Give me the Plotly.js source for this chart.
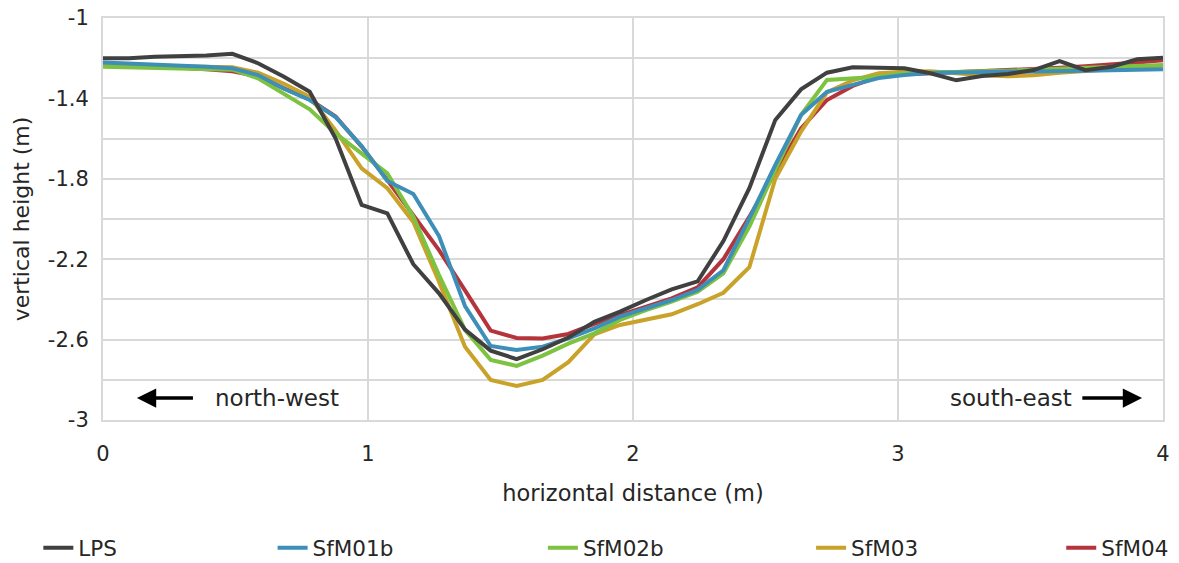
<!DOCTYPE html>
<html>
<head>
<meta charset="utf-8">
<script src="https://cdn.plot.ly/plotly-3.0.1.min.js"></script>
<style>html,body{margin:0;padding:0;background:#fff;}#chart{width:1179px;height:563px;}</style>
</head>
<body>
<div id="chart"></div>
<script>
// horizontal distance (m)
const distance = [0,0.098,0.195,0.293,0.390,0.488,0.585,0.683,0.780,0.878,0.976,1.073,1.171,1.268,1.366,1.463,1.561,1.659,1.756,1.854,1.951,2.049,2.146,2.244,2.341,2.439,2.537,2.634,2.732,2.829,2.927,3.024,3.122,3.220,3.317,3.415,3.512,3.610,3.707,3.805,3.902,4.000];

// vertical height (m) per survey
const LPS = [-1.200,-1.200,-1.193,-1.190,-1.186,-1.178,-1.225,-1.292,-1.367,-1.600,-1.930,-1.972,-2.225,-2.370,-2.550,-2.655,-2.697,-2.648,-2.590,-2.511,-2.461,-2.403,-2.350,-2.310,-2.110,-1.847,-1.507,-1.355,-1.272,-1.245,-1.247,-1.250,-1.275,-1.310,-1.289,-1.279,-1.259,-1.215,-1.260,-1.243,-1.205,-1.198];
const SfM01b = [-1.222,-1.226,-1.232,-1.238,-1.243,-1.250,-1.284,-1.352,-1.408,-1.493,-1.637,-1.811,-1.876,-2.085,-2.433,-2.632,-2.652,-2.635,-2.594,-2.544,-2.486,-2.444,-2.403,-2.353,-2.255,-1.997,-1.731,-1.483,-1.367,-1.333,-1.299,-1.284,-1.274,-1.271,-1.270,-1.268,-1.266,-1.265,-1.262,-1.260,-1.258,-1.255];
const SfM02b = [-1.242,-1.245,-1.248,-1.250,-1.253,-1.257,-1.300,-1.375,-1.454,-1.574,-1.673,-1.773,-1.989,-2.279,-2.552,-2.701,-2.731,-2.680,-2.620,-2.569,-2.502,-2.453,-2.411,-2.362,-2.270,-2.038,-1.756,-1.483,-1.308,-1.300,-1.292,-1.275,-1.270,-1.268,-1.265,-1.262,-1.258,-1.254,-1.249,-1.244,-1.239,-1.234];
const SfM03 = [-1.234,-1.236,-1.238,-1.240,-1.242,-1.245,-1.272,-1.327,-1.392,-1.560,-1.748,-1.847,-2.015,-2.312,-2.635,-2.801,-2.831,-2.801,-2.712,-2.574,-2.527,-2.502,-2.474,-2.424,-2.367,-2.240,-1.800,-1.565,-1.370,-1.310,-1.275,-1.268,-1.265,-1.275,-1.285,-1.290,-1.285,-1.272,-1.262,-1.255,-1.247,-1.236];
const SfM04 = [-1.225,-1.232,-1.240,-1.248,-1.255,-1.265,-1.290,-1.350,-1.405,-1.490,-1.640,-1.806,-1.980,-2.155,-2.355,-2.555,-2.592,-2.594,-2.572,-2.522,-2.478,-2.436,-2.395,-2.340,-2.200,-1.989,-1.765,-1.549,-1.408,-1.338,-1.292,-1.280,-1.275,-1.270,-1.265,-1.260,-1.255,-1.248,-1.240,-1.232,-1.222,-1.210];

const seriesNames = ["LPS","SfM01b","SfM02b","SfM03","SfM04"];
const seriesValues = [LPS, SfM01b, SfM02b, SfM03, SfM04];
const seriesColors = ["#404040","#3d8fb8","#7dc241","#c9a22a","#b5343c"];

const yTickVals = [-3,-2.6,-2.2,-1.8,-1.4,-1];
const yTickText = ["-3","-2.6","-2.2","-1.8","-1.4","-1"];
const xTickVals = [0,1,2,3,4];
const xTickText = ["0","1","2","3","4"];

const FONT = "DejaVu Sans, Verdana, sans-serif";
const TXT = "#262626";
// left edge (paper fraction) of each legend entry
const legendX = [-0.061, 0.160, 0.415, 0.668, 0.904];

const legendIds = ["legend","legend2","legend3","legend4","legend5"];

// draw order: last legend entry first so LPS ends on top
const traces = [];
for (let k = seriesNames.length - 1; k >= 0; k--) {
  traces.push({
    type: "scatter", mode: "lines",
    name: seriesNames[k],
    x: distance, y: seriesValues[k],
    line: {color: seriesColors[k], width: 4},
    legend: legendIds[k]
  });
}

const layout = {
  width: 1179, height: 563,
  margin: {l: 103, r: 16, t: 18, b: 143, autoexpand: false},
  paper_bgcolor: "#fff", plot_bgcolor: "#fff",
  font: {family: FONT, size: 21, color: TXT},
  showlegend: true,
  xaxis: {
    range: [0, 4], tickmode: "array", tickvals: xTickVals, ticktext: xTickText,
    showgrid: true, gridcolor: "#d9d9d9", gridwidth: 2,
    showline: true, linecolor: "#d9d9d9", linewidth: 2, mirror: true,
    zeroline: false, ticks: "", ticklabelstandoff: 14,
    tickfont: {family: FONT, size: 21, color: TXT},
    title: {text: "horizontal distance (m)", font: {family: FONT, size: 22.5, color: TXT}, standoff: 20}
  },
  yaxis: {
    range: [-3, -1], tickmode: "array", tickvals: yTickVals, ticktext: yTickText,
    showgrid: true, gridcolor: "#d9d9d9", gridwidth: 2,
    minor: {dtick: 0.2, tick0: -1, showgrid: true, gridcolor: "#d9d9d9", gridwidth: 2},
    showline: true, linecolor: "#d9d9d9", linewidth: 2, mirror: true,
    zeroline: false, ticks: "", ticklabelstandoff: 8,
    tickfont: {family: FONT, size: 21, color: TXT},
    title: {text: "vertical height (m)", font: {family: FONT, size: 22, color: TXT}, standoff: 12}
  },
  annotations: [
    {x: 0.128, y: -2.891, ax: 0.345, ay: -2.891, axref: "x", ayref: "y", xref: "x", yref: "y",
     text: "", showarrow: true, arrowhead: 2, arrowsize: 1.1, arrowwidth: 3.5, arrowcolor: "#000"},
    {x: 3.921, y: -2.891, ax: 3.690, ay: -2.891, axref: "x", ayref: "y", xref: "x", yref: "y",
     text: "", showarrow: true, arrowhead: 2, arrowsize: 1.1, arrowwidth: 3.5, arrowcolor: "#000"},
    {x: 0.655, y: -2.891, xref: "x", yref: "y", text: "north-west", showarrow: false,
     font: {family: FONT, size: 23, color: TXT}},
    {x: 3.425, y: -2.891, xref: "x", yref: "y", text: "south-east", showarrow: false,
     font: {family: FONT, size: 23, color: TXT}}
  ]
};
legendIds.forEach((id, k) => {
  layout[id] = {
    orientation: "h", x: legendX[k], xanchor: "left", y: -0.318, yanchor: "middle",
    font: {family: FONT, size: 21.5, color: TXT}, bgcolor: "rgba(0,0,0,0)"
  };
});

Plotly.newPlot("chart", traces, layout, {displayModeBar: false, staticPlot: true});
</script>
</body>
</html>
